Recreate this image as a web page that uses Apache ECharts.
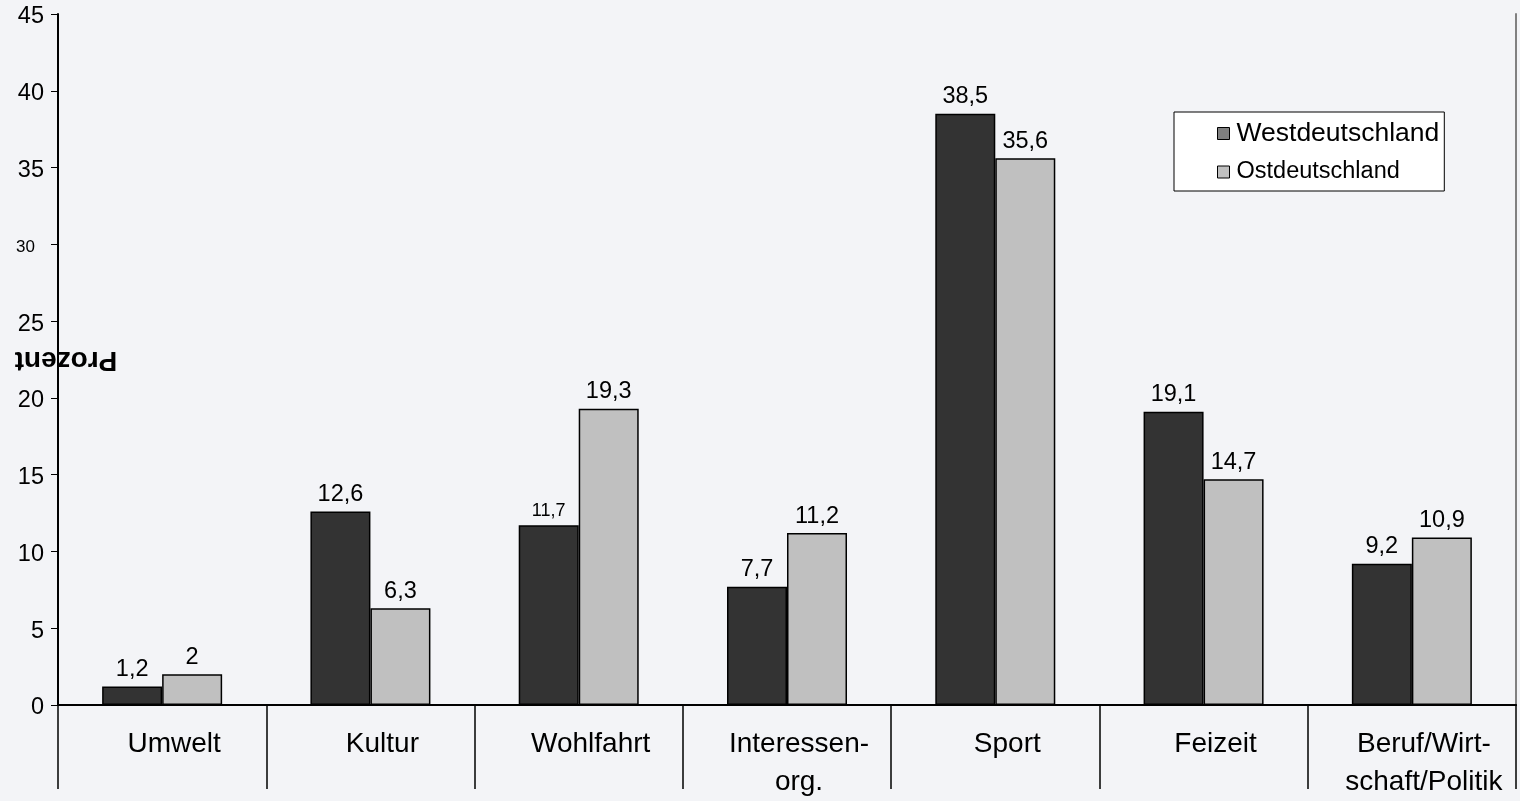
<!DOCTYPE html>
<html>
<head>
<meta charset="utf-8">
<script src="https://cdn.jsdelivr.net/npm/echarts@6/dist/echarts.min.js"></script>
<style>
html,body{margin:0;padding:0;background:#f3f4f7;overflow:hidden;}
#chart{width:1520px;height:801px;}
</style>
</head>
<body>
<div id="chart"></div>
<script>
var categories = ['Umwelt', 'Kultur', 'Wohlfahrt', 'Interessen-\norg.', 'Sport', 'Feizeit', 'Beruf/Wirt-\nschaft/Politik'];
var seriesNames = ['Westdeutschland', 'Ostdeutschland'];
var west = [1.2, 12.6, 11.7, 7.7, 38.5, 19.1, 9.2];
var east = [2, 6.3, 19.3, 11.2, 35.6, 14.7, 10.9];
var yMin = 0, yMax = 45, yStep = 5;
var smallYLabel = 30;
var smallDataLabel = 11.7;
var yTitle = 'Prozent';

var FONT = "'Liberation Sans', Arial, sans-serif";
function fmt(v){ return String(v).replace('.', ','); }

var chart = echarts.init(document.getElementById('chart'), null, {renderer:'canvas', width:1520, height:801});
function labelFor(){
  return {
    show: true, position: 'top', distance: 5, color: '#000', fontFamily: FONT, fontSize: 23.5,
    formatter: function(p){ return p.value === smallDataLabel ? '{s|' + fmt(p.value) + '}' : fmt(p.value); },
    rich: { s: { fontSize: 18, fontFamily: FONT, color: '#000' } }
  };
}
var option = {
  backgroundColor: '#f3f4f7',
  animation: false,
  textStyle: { fontFamily: FONT },
  grid: { left: 58, right: 4, top: 14, bottom: 92, containLabel: false },
  legend: {
    orient: 'vertical', left: 1174, top: 112,
    backgroundColor: '#ffffff', borderColor: '#000', borderWidth: 1, borderRadius: 0,
    padding: [8, 5, 7, 43], itemGap: 13, itemWidth: 12, itemHeight: 12, icon: 'rect',
    textStyle: { color: '#000', fontFamily: FONT, padding: [0,0,0,2] },
    data: [
      { name: seriesNames[0], itemStyle: { color: '#808080', borderColor: '#000', borderWidth: 1 }, textStyle: { fontSize: 26.5 } },
      { name: seriesNames[1], itemStyle: { color: '#c0c0c0', borderColor: '#000', borderWidth: 1 }, textStyle: { fontSize: 23.5 } }
    ]
  },
  xAxis: [{
    type: 'category', data: categories, boundaryGap: true, position: 'bottom',
    axisLine: { show: true, lineStyle: { color: '#000', width: 1.5 } },
    axisTick: { show: true, length: 84, interval: 0, lineStyle: { color: '#000', width: 1.5 } },
    axisLabel: { interval: 0, color: '#000', fontSize: 28, fontFamily: FONT, margin: 20, lineHeight: 38,
      verticalAlign: 'top', padding: [0, 0, 0, 24] },
    splitLine: { show: false }
  }, {
    type: 'category', data: categories, position: 'top',
    axisLine: { show: true, lineStyle: { color: '#000', width: 2 } },
    axisTick: { show: false }, axisLabel: { show: false }, splitLine: { show: false }
  }],
  yAxis: [{
    type: 'value', min: yMin, max: yMax, interval: yStep, position: 'left',
    axisLine: { show: true, lineStyle: { color: '#000', width: 2 } },
    axisTick: { show: true, length: 7, lineStyle: { color: '#000', width: 1 } },
    axisLabel: { color: '#000', fontSize: 23.5, fontFamily: FONT, margin: 14, padding: [6, 0, 0, 0],
      formatter: function(v){ return v === smallYLabel ? '{s|' + v + '}' : String(v); },
      rich: { s: { fontSize: 17, fontFamily: FONT, color: '#000', padding: [0, 9, 0, 0] } } },
    splitLine: { show: false }
  }, {
    type: 'value', min: yMin, max: yMax, interval: yStep, position: 'right',
    axisLine: { show: true, lineStyle: { color: '#808080', width: 2 } },
    axisTick: { show: false }, axisLabel: { show: false }, splitLine: { show: false }
  }],
  series: [{
    name: seriesNames[0], type: 'bar', data: west, barWidth: 60, barGap: '0%',
    itemStyle: { color: '#333333', borderColor: '#000', borderWidth: 1.5 },
    label: labelFor()
  }, {
    name: seriesNames[1], type: 'bar', data: east, barWidth: 60, barGap: '0%',
    itemStyle: { color: '#c0c0c0', borderColor: '#000', borderWidth: 1.5 },
    label: labelFor()
  }],
  graphic: [{
    type: 'text', x: 66, y: 360, rotation: Math.PI, z: 100,
    style: { text: yTitle, fontSize: 28, fontWeight: 'bold', fontFamily: FONT, fill: '#000',
      align: 'center', verticalAlign: 'middle' }
  }]
};
chart.setOption(option);
</script>
</body>
</html>
